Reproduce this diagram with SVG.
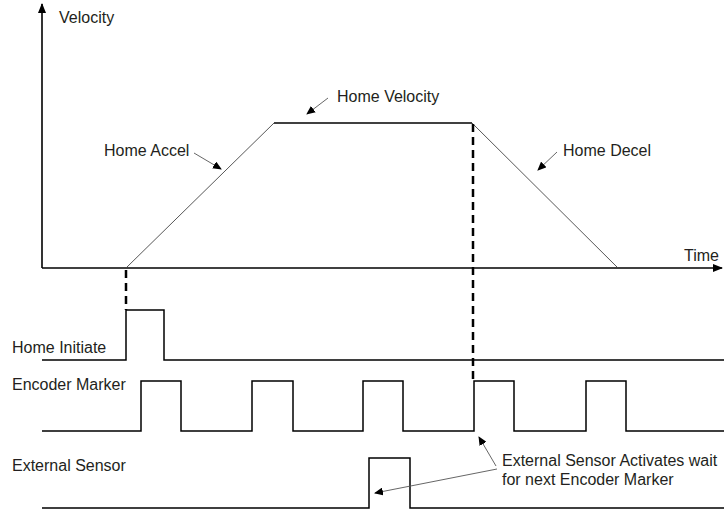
<svg xmlns="http://www.w3.org/2000/svg" width="724" height="510" viewBox="0 0 724 510">
<style>
text{font-family:"Liberation Sans",Arial,sans-serif;font-size:16px;fill:#231f20}
.ax{stroke:#000;stroke-width:1.6;fill:none}
.sig{stroke:#000;stroke-width:1.5;fill:none}
.slope{stroke:#444;stroke-width:0.9;fill:none}
.dash{stroke:#000;stroke-width:2.5;stroke-dasharray:8,5;fill:none}
.ann{stroke:#555;stroke-width:0.9;fill:none}
</style>
<defs>
<marker id="ah" markerWidth="10" markerHeight="8" refX="9" refY="4" orient="auto" markerUnits="userSpaceOnUse">
<path d="M0,0 L10,4 L0,8 Z" fill="#000"/>
</marker>
<marker id="ah2" markerWidth="9" markerHeight="8" refX="8" refY="4" orient="auto" markerUnits="userSpaceOnUse">
<path d="M0,0 L9,4 L0,8 Z" fill="#000"/>
</marker>
</defs>
<g id="axes">
<line class="ax" x1="42" y1="268" x2="42" y2="4" marker-end="url(#ah)"/>
<line class="ax" x1="42" y1="268" x2="722" y2="268" marker-end="url(#ah)"/>
<text x="59" y="23">Velocity</text>
<text x="684" y="261">Time</text>
</g>
<g id="profile">
<line class="slope" x1="126" y1="268" x2="274" y2="123"/>
<line class="sig" x1="274" y1="123" x2="472" y2="123"/>
<line class="slope" x1="472" y1="123" x2="618" y2="268"/>
</g>
<g id="home-initiate">
<path class="sig" d="M42,360 H126 V310 H164 V360 H724"/>
<text x="12" y="353">Home Initiate</text>
</g>
<g id="encoder-marker">
<path class="sig" d="M42,431 H141 V381 H181 V431 H252 V381 H293 V431 H363 V381 H403 V431 H474 V381 H514 V431 H586 V381 H626 V431 H724"/>
<text x="12" y="390">Encoder Marker</text>
</g>
<g id="external-sensor">
<path class="sig" d="M42,508 H369 V458 H410 V508 H724"/>
<text x="12" y="471">External Sensor</text>
</g>
<g id="labels">
<text x="104" y="156">Home Accel</text>
<text x="337" y="102">Home Velocity</text>
<text x="563" y="156">Home Decel</text>
<text x="502" y="466">External Sensor Activates wait</text>
<text x="502" y="485">for next Encoder Marker</text>
</g>
<g id="connectors">
<line class="dash" x1="126" y1="270" x2="126" y2="310"/>
<line class="dash" x1="473" y1="124" x2="473" y2="381"/>
<line class="ann" x1="194" y1="153" x2="221" y2="169" marker-end="url(#ah2)"/>
<line class="ann" x1="328" y1="98" x2="307" y2="114" marker-end="url(#ah2)"/>
<line class="ann" x1="557" y1="152" x2="538" y2="170" marker-end="url(#ah2)"/>
<line class="ann" x1="496" y1="466" x2="479" y2="437" marker-end="url(#ah2)"/>
<line class="ann" x1="497" y1="469" x2="375" y2="493" marker-end="url(#ah2)"/>
</g>
</svg>
